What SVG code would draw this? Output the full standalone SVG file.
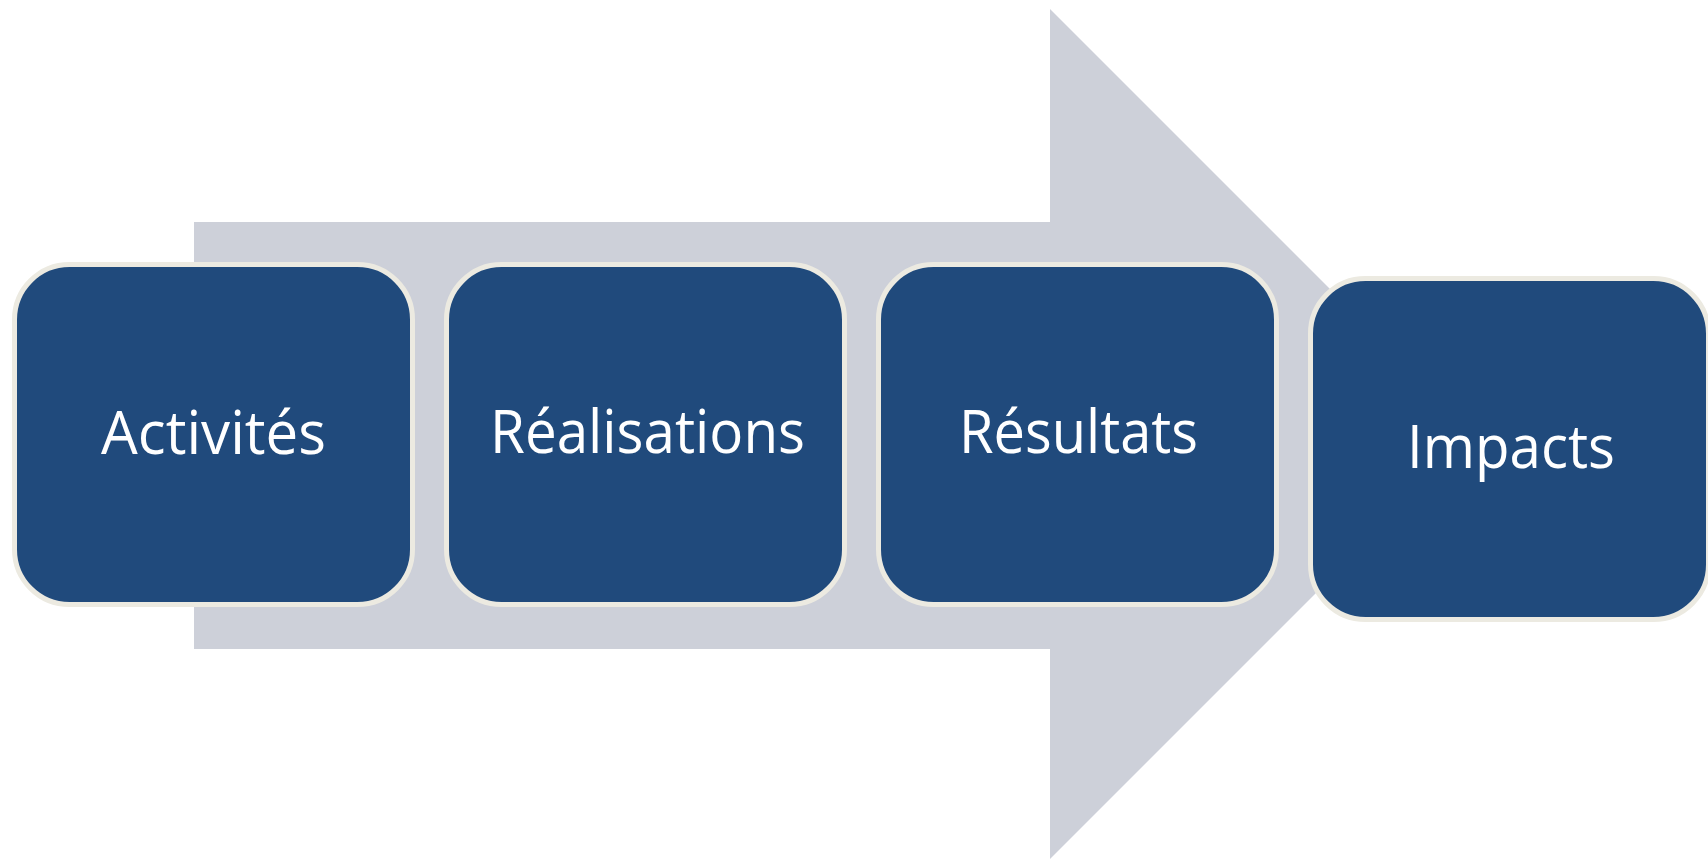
<svg xmlns="http://www.w3.org/2000/svg" width="1708" height="859" viewBox="0 0 1708 859">
<style>
.box{fill:#204A7C;stroke:#ECEAE1;stroke-width:5}
.lbl{font-family:"Open Sans","Noto Sans","Liberation Sans",sans-serif;font-size:60px;fill:#FFFFFF;text-anchor:middle}
</style>
<rect width="1708" height="859" fill="#FFFFFF"/>
<g id="connectors">
<polygon points="194,222 1050,222 1050,9 1475,434 1050,859 1050,649 194,649" fill="#CDD0D9"/>
</g>
<g id="node-activites">
<rect class="box" x="14.5" y="264.5" width="398" height="340" rx="55" ry="55"/>
<text class="lbl" x="213.5" y="454" textLength="225" lengthAdjust="spacingAndGlyphs">Activités</text>
</g>
<g id="node-realisations">
<rect class="box" x="446.5" y="264.5" width="398" height="340" rx="55" ry="55"/>
<text class="lbl" x="647.5" y="453" textLength="315" lengthAdjust="spacingAndGlyphs">Réalisations</text>
</g>
<g id="node-resultats">
<rect class="box" x="878.5" y="264.5" width="398" height="340" rx="55" ry="55"/>
<text class="lbl" x="1078.5" y="453" textLength="239" lengthAdjust="spacingAndGlyphs">Résultats</text>
</g>
<g id="node-impacts">
<rect class="box" x="1310.5" y="278.5" width="398" height="341" rx="55" ry="55"/>
<text class="lbl" x="1511" y="468" textLength="208" lengthAdjust="spacingAndGlyphs">Impacts</text>
</g>
</svg>
